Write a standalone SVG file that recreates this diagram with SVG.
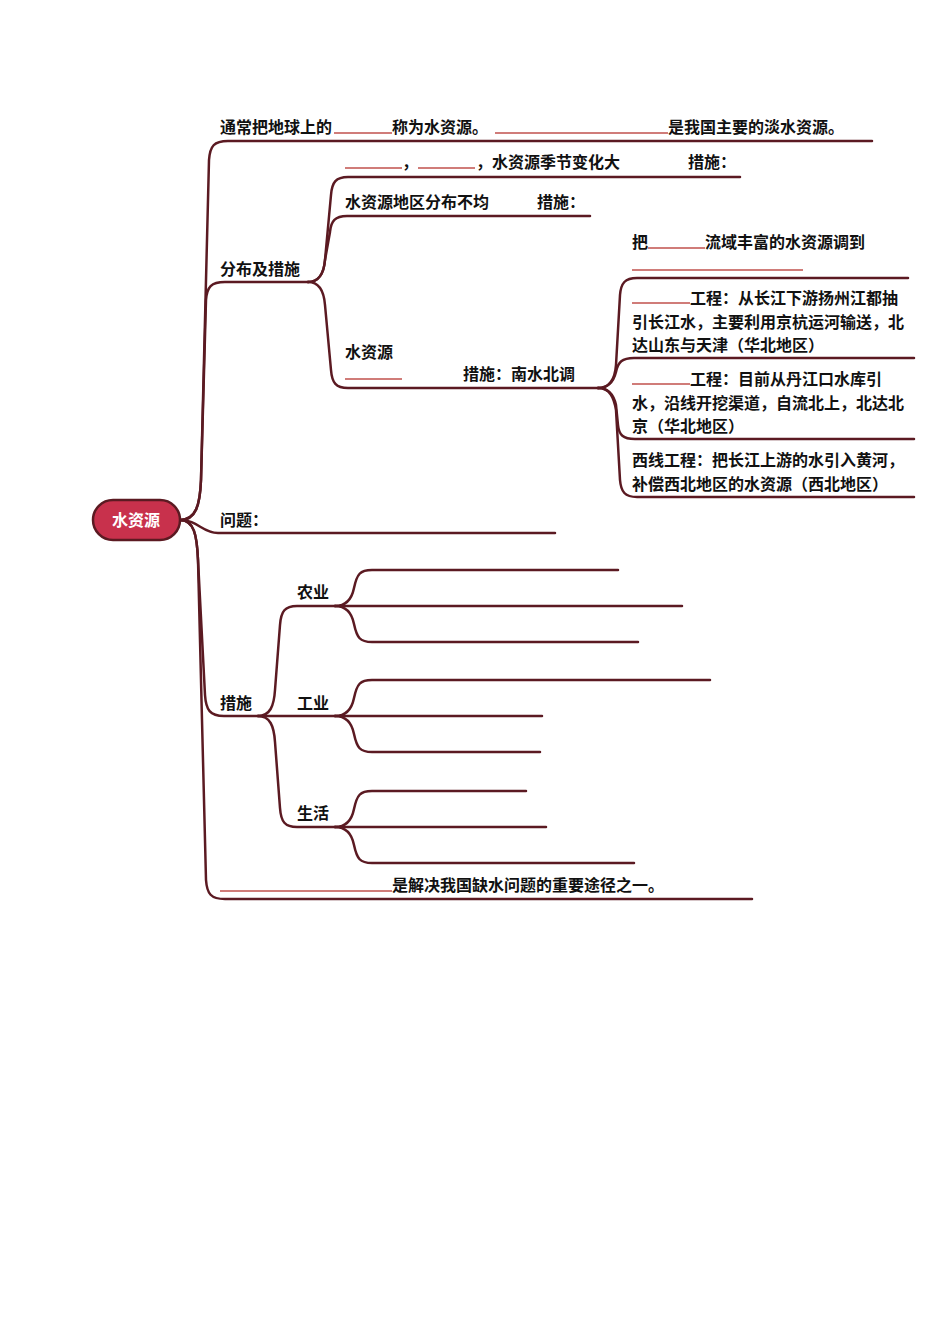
<svg xmlns="http://www.w3.org/2000/svg" width="950" height="1344" viewBox="0 0 950 1344">
<style>
.c{fill:none;stroke:#5b1a22;stroke-width:2.5;stroke-linecap:round;stroke-linejoin:round}
.b{fill:none;stroke:#c0504d;stroke-width:1.3}
text{font-family:"Noto Sans CJK SC","Noto Sans",sans-serif;font-size:16px;font-weight:bold;fill:#111}
.rt{fill:#fff;text-anchor:middle}
</style>
<rect width="950" height="1344" fill="#fff"/>
<g id="connectors">
<path class="c" d="M180,520 C196,520 200,505 201,480 L209,160 C210,146 214,141 228,141 L872,141"/>
<path class="c" d="M180,520 C196,520 200,505 201,480 L206,300 C207,287 211,282 225,282 L308,282"/>
<path class="c" d="M180,520 C198,520 202,533 218,533 L555,533"/>
<path class="c" d="M180,520 C194,520 197,535 198,560 L205,695 C206,710 210,716 224,716 L258,716"/>
<path class="c" d="M180,520 C194,520 197,535 198,560 L206,880 C207,894 211,899 225,899 L752,899"/>
<path class="c" d="M308,282 C320,282 324,272 325,260 L331,195 C332,182 336,177 348,177 L740,177"/>
<path class="c" d="M308,282 C320,282 324,272 325,260 L330,232 C331,221 335,216 347,216 L590,216"/>
<path class="c" d="M308,282 C320,282 324,292 325,305 L331,370 C332,383 336,388 348,388 L598,388"/>
<path class="c" d="M598,388 C610,388 615,378 616,365 L620,295 C621,283 625,278 637,278 L908,278"/>
<path class="c" d="M598,388 C610,388 614,380 616,372 C618,362 622,358 634,358 L914,358"/>
<path class="c" d="M598,388 C610,388 614,396 616,405 L618,425 C619,435 623,439 635,439 L914,439"/>
<path class="c" d="M598,388 C610,388 614,398 616,410 L620,480 C621,492 625,497 637,497 L914,497"/>
<path class="c" d="M258,716 C270,716 274,706 275,690 L280,625 C281,611 285,606 297,606 L335,606"/>
<path class="c" d="M258,716 L335,716"/>
<path class="c" d="M258,716 C270,716 274,726 275,742 L280,808 C281,822 285,827 297,827 L335,827"/>
<path class="c" d="M335,606 C347,606 352,598 354,588 C357,574 360,570 372,570 L618,570"/>
<path class="c" d="M335,606 L682,606"/>
<path class="c" d="M335,606 C347,606 352,614 354,624 C357,638 360,642 372,642 L638,642"/>
<path class="c" d="M335,716 C347,716 352,708 354,698 C357,684 360,680 372,680 L710,680"/>
<path class="c" d="M335,716 L542,716"/>
<path class="c" d="M335,716 C347,716 352,724 354,734 C357,748 360,752 372,752 L540,752"/>
<path class="c" d="M335,827 C347,827 352,819 354,809 C357,795 360,791 372,791 L526,791"/>
<path class="c" d="M335,827 L546,827"/>
<path class="c" d="M335,827 C347,827 352,835 354,845 C357,859 360,863 372,863 L634,863"/>
</g>
<g id="root">
<rect x="93" y="500" width="87" height="40" rx="20" fill="#c8314c" stroke="#5b1a22" stroke-width="2.5"/>
<text class="rt" x="136" y="526">水资源</text>
</g>
<g id="n-definition">
<text x="220" y="133">通常把地球上的</text>
<line class="b" x1="334" y1="133" x2="392" y2="133"/>
<text x="392" y="133">称为水资源。</text>
<line class="b" x1="495" y1="133" x2="668" y2="133"/>
<text x="668" y="133">是我国主要的淡水资源。</text>
</g>
<g id="n-distribution">
<text x="220" y="275">分布及措施</text>
</g>
<g id="n-season">
<line class="b" x1="345" y1="168" x2="402" y2="168"/>
<text x="402" y="168">，</text>
<line class="b" x1="418" y1="168" x2="475" y2="168"/>
<text x="476" y="168">，水资源季节变化大</text>
<text x="688" y="168">措施：</text>
</g>
<g id="n-region">
<text x="345" y="208">水资源地区分布不均</text>
<text x="537" y="208">措施：</text>
</g>
<g id="n-south-north">
<text x="345" y="358">水资源</text>
<line class="b" x1="345" y1="379" x2="402" y2="379"/>
<text x="463" y="380">措施：南水北调</text>
</g>
<g id="n-transfer">
<text x="632" y="248">把</text>
<line class="b" x1="648" y1="248" x2="705" y2="248"/>
<text x="705" y="248">流域丰富的水资源调到</text>
<line class="b" x1="632" y1="270" x2="803" y2="270"/>
</g>
<g id="n-east">
<line class="b" x1="632" y1="303" x2="690" y2="303"/>
<text x="690" y="304">工程：从长江下游扬州江都抽</text>
<text x="632" y="327.5">引长江水，主要利用京杭运河输送，北</text>
<text x="632" y="351">达山东与天津（华北地区）</text>
</g>
<g id="n-middle">
<line class="b" x1="632" y1="384" x2="690" y2="384"/>
<text x="690" y="385">工程：目前从丹江口水库引</text>
<text x="632" y="408.5">水，沿线开挖渠道，自流北上，北达北</text>
<text x="632" y="432">京（华北地区）</text>
</g>
<g id="n-west">
<text x="632" y="466">西线工程：把长江上游的水引入黄河，</text>
<text x="632" y="489.5">补偿西北地区的水资源（西北地区）</text>
</g>
<g id="n-problem">
<text x="220" y="526">问题：</text>
</g>
<g id="n-measures">
<text x="220" y="709">措施</text>
</g>
<g id="n-agri">
<text x="297" y="598">农业</text>
</g>
<g id="n-industry">
<text x="297" y="709">工业</text>
</g>
<g id="n-life">
<text x="297" y="819">生活</text>
</g>
<g id="n-bottom">
<line class="b" x1="220" y1="891" x2="392" y2="891"/>
<text x="392" y="891">是解决我国缺水问题的重要途径之一。</text>
</g>
</svg>
